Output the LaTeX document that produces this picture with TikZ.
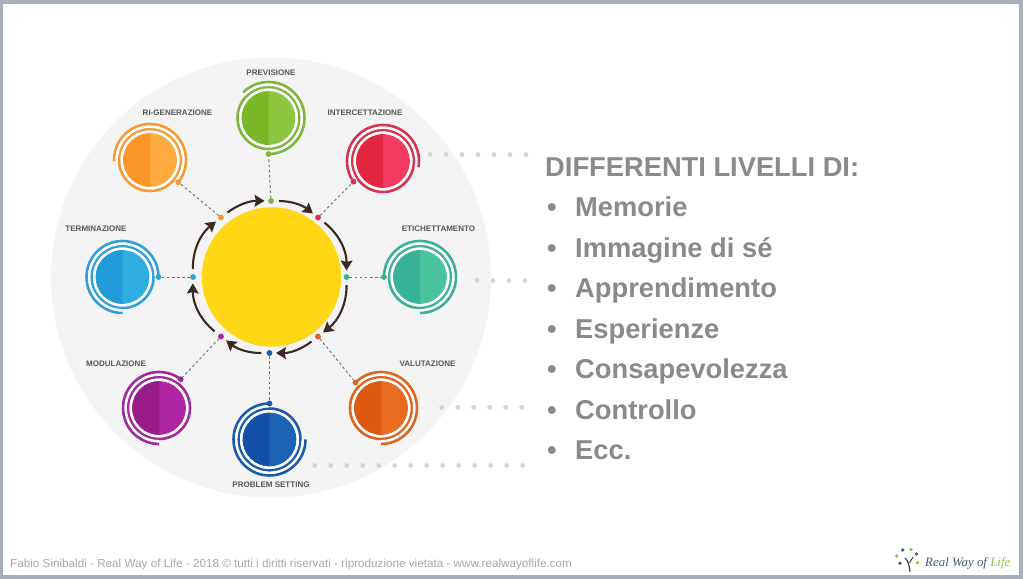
\documentclass[tikz,border=0pt]{standalone}
\usepackage{fontspec}
\setmainfont{Liberation Sans}
\newfontfamily\logofont{Liberation Serif}
\usetikzlibrary{arrows.meta}
\definecolor{frameback}{HTML}{A9AFBA}
\definecolor{discback}{HTML}{F4F4F4}
\definecolor{hubyellow}{HTML}{FFD714}
\definecolor{arrowbrown}{HTML}{3B2A22}
\definecolor{labelgrey}{HTML}{58585A}
\definecolor{listgrey}{HTML}{8A8A8A}
\definecolor{leadergrey}{HTML}{D4D4D4}
\definecolor{footgrey}{HTML}{A8A8A8}
\definecolor{logoslate}{HTML}{4A5F70}
\definecolor{logogreen}{HTML}{8CC63F}
\definecolor{greenA}{HTML}{7AB828}\definecolor{greenB}{HTML}{8CC63F}\definecolor{greenC}{HTML}{7DB53A}
\definecolor{redA}{HTML}{E2263F}\definecolor{redB}{HTML}{F53B62}\definecolor{redC}{HTML}{D9324F}
\definecolor{tealA}{HTML}{36B396}\definecolor{tealB}{HTML}{4AC39F}\definecolor{tealC}{HTML}{3BB097}
\definecolor{rustA}{HTML}{DC5A10}\definecolor{rustB}{HTML}{E96B20}\definecolor{rustC}{HTML}{DD6420}
\definecolor{blueA}{HTML}{1450A8}\definecolor{blueB}{HTML}{1B64B5}\definecolor{blueC}{HTML}{1A5CAB}
\definecolor{plumA}{HTML}{9A1C8A}\definecolor{plumB}{HTML}{AD25A3}\definecolor{plumC}{HTML}{A0289A}
\definecolor{skyA}{HTML}{219BD9}\definecolor{skyB}{HTML}{2FADE0}\definecolor{skyC}{HTML}{2F9FD8}
\definecolor{amberA}{HTML}{FB9628}\definecolor{amberB}{HTML}{FFAB3F}\definecolor{amberC}{HTML}{F79A33}
\begin{document}
\begin{tikzpicture}[x=0.3mm,y=-0.3mm,
>={Stealth[length=8.5pt,width=10pt,inset=1.2pt]},
tag/.style={font=\fontsize{6.85}{8}\selectfont\bfseries,text=labelgrey,inner sep=0pt},
pin/.style={circle,inner sep=0pt,outer sep=0pt,minimum size=5pt},
flow/.style={->,line width=1.8pt,draw=arrowbrown,shorten <=4.5pt,shorten >=3pt},
spoke/.style={draw=black!55,line width=0.8pt,dash pattern=on 2.2pt off 2.2pt},
listline/.style={font=\fontsize{23.3}{26}\selectfont\bfseries,text=listgrey,inner sep=0pt,anchor=base west}]
\useasboundingbox (0,0) rectangle (1023,579);
\fill[frameback] (0,0) rectangle (1023,579);
\fill[white] (3,4) rectangle (1019,575);
\fill[discback] (271,277.5) circle (220);
\node[circle,fill=hubyellow,inner sep=0pt,minimum size=119pt] (hub) at (271.5,277) {};
% satellites: name, centre, colours, pin angle, sweep, hub pin
\foreach \name/\cx/\cy/\tint/\ang/\sweep/\hx/\hy in {
previsione/268.5/118/green/90/-225/271/201,
intercettazione/383/161/red/-215/225/318/217.5,
etichettamento/420/277/teal/180/270/346.5/277,
valutazione/381/408/rust/-135/225/318/336.5,
problem/269.5/439.5/blue/-90/-270/269.5/353,
modulazione/159/408/plum/-53/-217/221/336.5,
terminazione/122.5/277/sky/0/-270/193/277,
rigenerazione/150/160/amber/38/-220/221/217.5}{
\fill[\tint B] (\cx,\cy) circle (27);
\fill[\tint A] (\cx,\cy-27) arc[start angle=-90,delta angle=-180,radius=27] -- cycle;
\draw[white,line width=2.2pt] (\cx,\cy) circle (28.4);
\draw[\tint C,line width=2.2pt] (\cx,\cy) circle (31);
\draw[white,line width=2.6pt] ([shift={(\ang:33.6)}]\cx,\cy) arc[start angle=\ang,delta angle=\sweep,radius=33.6];
\draw[\tint C,line width=2.2pt] ([shift={(\ang:36)}]\cx,\cy) arc[start angle=\ang,delta angle=\sweep,radius=36];
\node[pin,fill=\tint C] (\name pin) at ([shift={(\ang:36)}]\cx,\cy) {};
\node[pin,fill=\tint C] (\name hub) at (\hx,\hy) {};
\draw[spoke] (\name hub) -- (\name pin);
}
\foreach \from/\to/\bend in {
previsione/intercettazione/19,intercettazione/etichettamento/26,
etichettamento/valutazione/26,valutazione/problem/19,
problem/modulazione/19,modulazione/terminazione/26,
terminazione/rigenerazione/26,rigenerazione/previsione/19}
\draw[flow] (\from hub) to[bend left=\bend] (\to hub);
\node[tag] (tagprevisione) at (271,73) {PREVISIONE};
\node[tag] (tagintercettazione) at (365,113) {INTERCETTAZIONE};
\node[tag] (tagetichettamento) at (438.5,228.5) {ETICHETTAMENTO};
\node[tag] (tagvalutazione) at (427.5,364) {VALUTAZIONE};
\node[tag] (tagproblem) at (271,485) {PROBLEM SETTING};
\node[tag] (tagmodulazione) at (116,364) {MODULAZIONE};
\node[tag] (tagterminazione) at (96,229) {TERMINAZIONE};
\node[tag] (tagrigenerazione) at (177.5,113) {RI-GENERAZIONE};
% dotted leaders
\foreach \x in {430,446,...,526} \fill[leadergrey] (\x,154.5) circle (2.4);
\foreach \x in {477,493,...,525} \fill[leadergrey] (\x,280.5) circle (2.4);
\foreach \x in {441.7,457.7,...,522} \fill[leadergrey] (\x,407.5) circle (2.4);
\foreach \x in {314.7,330.7,...,523} \fill[leadergrey] (\x,465.5) circle (2.4);
\node[listline] (heading) at (545,176.5) {DIFFERENTI LIVELLI DI:};
\foreach \y/\word in {217/Memorie,257.5/Immagine di sé,298/Apprendimento,338.5/Esperienze,379/Consapevolezza,419.5/Controllo,460/Ecc.}{
\node[listline] (bullet\y) at (547,\y) {•};
\node[listline] (item\y) at (575,\y) {\word};
}
\node[anchor=base west,inner sep=0pt,font=\fontsize{9.98}{11}\selectfont,text=footgrey] (footer) at (10,567) {Fabio Sinibaldi - Real Way of Life - 2018 © tutti i diritti riservati - riproduzione vietata - www.realwayoflife.com};
% logo
\draw[arrowbrown,line width=0.9pt] (910,572) .. controls (909,565) and (909,562) .. (905,558);
\draw[arrowbrown,line width=0.7pt] (909.5,563) -- (913,557);
\foreach \x/\y/\tone in {902.7/550/logoslate,911/549.5/logogreen,896.7/556/logogreen,916.5/554/logoslate,900/563.3/logoslate,917.5/562.7/logogreen}
\fill[\tone] (\x,\y) circle (1.9);
\node[anchor=base west,inner sep=0pt,font=\logofont\itshape\fontsize{11}{12}\selectfont,text=logoslate] (logotext) at (925,566) {Real Way of \textcolor{logogreen}{Life}};
\end{tikzpicture}
\end{document}
